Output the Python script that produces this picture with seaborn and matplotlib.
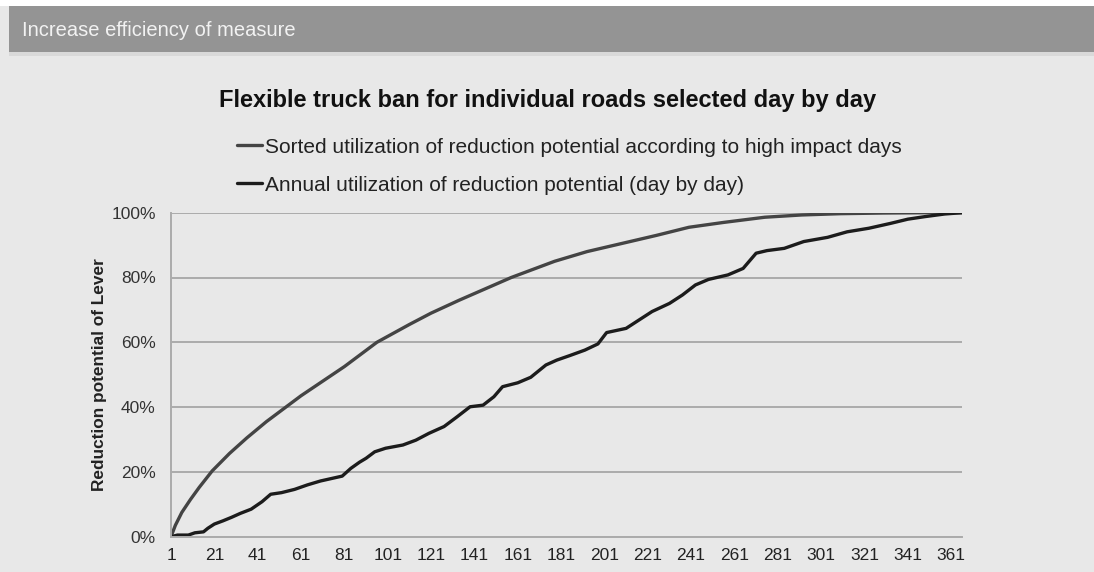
import matplotlib
matplotlib.use('Agg')
import matplotlib.pyplot as plt
from matplotlib.patches import Rectangle
import pandas as pd
import seaborn as sns

# Values (share of the annual reduction potential, %)
series_names = [
    "Sorted utilization of reduction potential according to high impact days",
    "Annual utilization of reduction potential (day by day)",
]

sorted_days = [1, 3, 6, 10, 14, 20, 28, 36, 45, 54, 61, 71, 81, 96, 111, 121,
               134, 146, 158, 178, 193, 209, 225, 240, 256, 275, 292, 310, 330,
               350, 366]
sorted_share = [0, 3.5, 7.5, 11.5, 15.2, 20.3, 25.7, 30.5, 35.5, 40, 43.5, 48,
                52.5, 60, 65.5, 69, 73, 76.5, 80, 85, 88, 90.5, 93, 95.5, 97,
                98.6, 99.3, 99.7, 99.9, 100, 100]

annual_days = [1, 4, 9, 12, 16, 18, 21, 25, 29, 33, 38, 43, 47, 52, 58, 64, 70,
               80, 84, 88, 91, 95, 100, 108, 114, 120, 127, 133, 139, 145, 150,
               154, 161, 167, 174, 179, 185, 192, 198, 202, 211, 217, 223, 231,
               237, 243, 249, 258, 265, 271, 276, 284, 293, 304, 313, 323, 333,
               341, 349, 358, 366]
annual_share = [0, 0.5, 0.5, 1.2, 1.5, 2.6, 3.9, 4.9, 6.0, 7.2, 8.5, 10.8, 13.1,
                13.6, 14.6, 16.0, 17.2, 18.7, 21.1, 23, 24.2, 26.2, 27.3, 28.3,
                29.8, 31.9, 34.0, 37.0, 40.1, 40.6, 43.2, 46.3, 47.5, 49.2, 53.0,
                54.5, 55.9, 57.6, 59.5, 63.0, 64.3, 66.9, 69.5, 72.0, 74.6, 77.7,
                79.4, 80.8, 82.8, 87.5, 88.3, 89.0, 91.1, 92.4, 94.1, 95.2, 96.7,
                98.0, 98.8, 99.6, 100]

x_ticks = list(range(1, 362, 20))
y_ticks = [0, 20, 40, 60, 80, 100]

df = pd.concat([
    pd.DataFrame({"day": sorted_days, "share": sorted_share, "series": series_names[0]}),
    pd.DataFrame({"day": annual_days, "share": annual_share, "series": series_names[1]}),
])

bg = "#e8e8e8"
sns.set_style("white", {"axes.facecolor": bg, "figure.facecolor": bg})
plt.rcParams['font.family'] = ['Liberation Sans', 'DejaVu Sans']

fig = plt.figure(figsize=(10.94, 5.72), dpi=100)
W, H = 1094, 572

# header bar
fig.patches.append(Rectangle((0, 1 - 6 / H), 1, 6 / H, transform=fig.transFigure,
                             facecolor="white", edgecolor="none", zorder=0))
fig.patches.append(Rectangle((9 / W, 1 - 52 / H), 1, 46 / H, transform=fig.transFigure,
                             facecolor="#949494", edgecolor="none", zorder=1))
fig.patches.append(Rectangle((9 / W, 1 - 56 / H), 1, 4 / H, transform=fig.transFigure,
                             facecolor="#d9d9d9", edgecolor="none", zorder=1))
fig.text(22 / W, 1 - 31 / H, "Increase efficiency of measure", color="#f2f2f2",
         fontsize=14.5, va="center", ha="left")

ax = fig.add_axes([171 / W, 35.3 / H, 791 / W, 324 / H])
palette = {series_names[0]: "#444444", series_names[1]: "#1c1c1c"}
sns.lineplot(data=df, x="day", y="share", hue="series", hue_order=series_names,
             palette=palette, linewidth=2.4, ax=ax, legend=False)

ax.set_xlim(1, 366)
ax.set_ylim(0, 100)
ax.set_xticks(x_ticks)
ax.set_xticklabels([str(t) for t in x_ticks], fontsize=12.5, color="#222222")
ax.set_yticks(y_ticks)
ax.set_yticklabels([f"{t}%" for t in y_ticks], fontsize=12.5, color="#333333")
ax.tick_params(axis="x", length=0, pad=8)
ax.tick_params(axis="y", length=0, pad=11)
ax.yaxis.grid(True, color="#ababab", linewidth=1.4)
ax.set_axisbelow(True)
for side in ["top", "right"]:
    ax.spines[side].set_visible(False)
for side in ["left", "bottom"]:
    ax.spines[side].set_color("#ababab")
    ax.spines[side].set_linewidth(1.4)
ax.set_xlabel("")
ax.set_ylabel("Reduction potential of Lever", fontsize=12.4, fontweight="bold",
              color="#222222", labelpad=3)

fig.text(548 / W, 1 - 100 / H, "Flexible truck ban for individual roads selected day by day",
         fontsize=17, fontweight="bold", ha="center", va="center", color="#111111")

handles = [plt.Line2D([], [], color=palette[s], linewidth=2.4) for s in series_names]
fig.legend(handles, series_names, loc="upper left", bbox_to_anchor=(218 / W, 1 - 119 / H),
           frameon=False, handlelength=1.2, handletextpad=0.15, labelspacing=0.9,
           prop={"size": 15}, labelcolor="#222222")

fig.savefig("out.png", dpi=100, facecolor=bg)
